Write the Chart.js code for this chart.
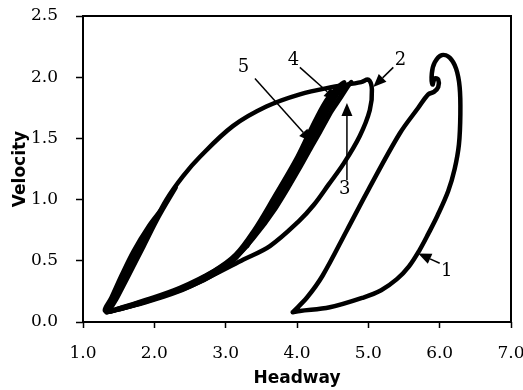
<!DOCTYPE html>
<html>
<head>
<meta charset="utf-8">
<script src="https://cdn.jsdelivr.net/npm/chart.js@4.4.0/dist/chart.umd.min.js"></script>
<style>
  body { margin: 0; background: #fff; }
  #wrap { width: 523px; height: 390px; }
</style>
</head>
<body>
<div id="wrap"><canvas id="loopChart" width="523" height="390"></canvas></div>
<script>
// axis ticks
const headwayTicks = [1, 2, 3, 4, 5, 6, 7];
const velocityTicks = [0, 0.5, 1, 1.5, 2, 2.5];

// trajectory 1 (right-hand loop)
const loop1Headway = [3.94, 4.14, 4.36, 4.70, 5.00, 5.44, 5.70, 5.84, 5.92, 5.98, 5.98, 5.93, 5.90, 5.89, 5.93, 6.03, 6.14, 6.23, 6.28, 6.29, 6.27, 6.21, 6.12, 5.97, 5.84, 5.72, 5.57, 5.40, 5.18, 4.93, 4.46, 4.04, 3.94];
const loop1Velocity = [0.08, 0.20, 0.38, 0.75, 1.08, 1.54, 1.75, 1.86, 1.88, 1.92, 1.98, 1.99, 1.94, 2.03, 2.12, 2.18, 2.16, 2.07, 1.92, 1.70, 1.45, 1.25, 1.07, 0.87, 0.72, 0.59, 0.455, 0.35, 0.26, 0.20, 0.12, 0.09, 0.08];

// trajectory 2 (outer left loop)
const loop2Headway = [1.33, 1.52, 1.70, 1.94, 2.17, 2.40, 2.64, 3.10, 3.57, 4.04, 4.50, 4.90, 5.00, 5.05, 5.02, 4.88, 4.66, 4.44, 4.24, 4.02, 3.62, 3.25, 2.78, 2.32, 1.84, 1.47, 1.33];
const loop2Velocity = [0.08, 0.29, 0.51, 0.75, 1.00, 1.19, 1.35, 1.60, 1.76, 1.86, 1.92, 1.96, 1.98, 1.90, 1.73, 1.52, 1.30, 1.12, 0.96, 0.82, 0.62, 0.51, 0.37, 0.245, 0.155, 0.10, 0.08];

// trajectories 3-5 (narrow loops along the band)
const loop3Headway = [2.30, 2.06, 1.85, 1.64, 1.48, 1.38, 1.50, 1.86, 2.34, 2.80, 3.10, 3.38, 3.70, 4.02, 4.24, 4.46, 4.62, 4.72, 4.76, 4.68, 4.52, 4.32, 4.10, 3.86, 3.58, 3.30];
const loop3Velocity = [1.10, 0.86, 0.62, 0.38, 0.20, 0.09, 0.11, 0.17, 0.26, 0.39, 0.51, 0.68, 0.93, 1.24, 1.47, 1.70, 1.84, 1.93, 1.96, 1.91, 1.76, 1.55, 1.33, 1.10, 0.85, 0.62];

const loop4Headway = [2.10, 1.92, 1.71, 1.54, 1.40, 1.31, 1.55, 1.90, 2.36, 2.82, 3.12, 3.40, 3.70, 4.00, 4.22, 4.44, 4.58, 4.64, 4.56, 4.38, 4.16, 3.92, 3.64, 3.36, 3.10];
const loop4Velocity = [0.92, 0.78, 0.58, 0.38, 0.20, 0.09, 0.11, 0.17, 0.27, 0.41, 0.53, 0.72, 0.98, 1.28, 1.52, 1.75, 1.88, 1.93, 1.86, 1.68, 1.45, 1.20, 0.92, 0.68, 0.52];

const loop5Headway = [1.33, 1.50, 1.88, 2.36, 2.84, 3.14, 3.40, 3.68, 3.98, 4.20, 4.40, 4.56, 4.66, 4.58, 4.40, 4.18, 3.94, 3.66, 3.40, 3.14, 2.90, 2.50, 2.00, 1.60, 1.33];
const loop5Velocity = [0.08, 0.11, 0.18, 0.28, 0.42, 0.55, 0.75, 1.02, 1.32, 1.58, 1.80, 1.91, 1.96, 1.90, 1.74, 1.50, 1.24, 0.95, 0.70, 0.52, 0.41, 0.29, 0.19, 0.12, 0.08];

const loops = [
  [loop1Headway, loop1Velocity],
  [loop2Headway, loop2Velocity],
  [loop3Headway, loop3Velocity],
  [loop4Headway, loop4Velocity],
  [loop5Headway, loop5Velocity]
];

// numbered arrows: text spot, arrow tail, arrow tip (in axis units)
const callouts = [
  { text: '1', at: [6.10, 0.41], from: [6.00, 0.48], to: [5.70, 0.56] },
  { text: '2', at: [5.45, 2.14], from: [5.35, 2.08], to: [5.07, 1.92] },
  { text: '3', at: [4.67, 1.08], from: [4.70, 1.16], to: [4.70, 1.79] },
  { text: '4', at: [3.95, 2.14], from: [4.04, 2.08], to: [4.56, 1.81] },
  { text: '5', at: [3.25, 2.08], from: [3.41, 1.99], to: [4.21, 1.47] }
];

const serif = '"DejaVu Serif", "Liberation Serif", serif';
const sans = '"DejaVu Sans", Arial, sans-serif';

const calloutPlugin = {
  id: 'callouts',
  afterDatasetsDraw(chart) {
    const { ctx, scales: { x, y } } = chart;
    ctx.save();
    ctx.strokeStyle = '#000';
    ctx.fillStyle = '#000';
    ctx.lineWidth = 1.5;
    ctx.font = '18px ' + serif;
    ctx.textAlign = 'center';
    ctx.textBaseline = 'middle';
    callouts.forEach(c => {
      const x0 = x.getPixelForValue(c.from[0]), y0 = y.getPixelForValue(c.from[1]);
      const x1 = x.getPixelForValue(c.to[0]), y1 = y.getPixelForValue(c.to[1]);
      const a = Math.atan2(y1 - y0, x1 - x0);
      const len = 13, half = 5.5;
      const bx = x1 - Math.cos(a) * len, by = y1 - Math.sin(a) * len;
      ctx.beginPath();
      ctx.moveTo(x0, y0);
      ctx.lineTo(bx, by);
      ctx.stroke();
      ctx.beginPath();
      ctx.moveTo(x1, y1);
      ctx.lineTo(bx + Math.sin(a) * half, by - Math.cos(a) * half);
      ctx.lineTo(bx - Math.sin(a) * half, by + Math.cos(a) * half);
      ctx.closePath();
      ctx.fill();
      ctx.fillText(c.text, x.getPixelForValue(c.at[0]), y.getPixelForValue(c.at[1]));
    });
    ctx.restore();
  }
};

// plot frame on all four sides
const framePlugin = {
  id: 'frame',
  afterDraw(chart) {
    const { ctx, chartArea: a } = chart;
    ctx.save();
    ctx.strokeStyle = '#000';
    ctx.lineWidth = 2;
    ctx.strokeRect(a.left, a.top, a.right - a.left, a.bottom - a.top);
    ctx.restore();
  }
};

const ctx = document.getElementById('loopChart').getContext('2d');
new Chart(ctx, {
  type: 'scatter',
  data: {
    datasets: loops.map((l, i) => ({
      label: 'Loop ' + (i + 1),
      data: l[0].map((h, k) => ({ x: h, y: l[1][k] })),
      showLine: true,
      borderColor: '#000',
      borderWidth: 4.5,
      pointRadius: 0,
      tension: 0.35,
      borderJoinStyle: 'round',
      borderCapStyle: 'round',
      fill: false
    }))
  },
  options: {
    responsive: false,
    animation: false,
    devicePixelRatio: 1,
    layout: { padding: { top: 16, right: 12, bottom: 0, left: 0 } },
    plugins: { legend: { display: false }, tooltip: { enabled: false } },
    scales: {
      x: {
        type: 'linear',
        min: 1,
        max: 7,
        afterBuildTicks: s => { s.ticks = headwayTicks.map(v => ({ value: v })); },
        afterFit: s => { s.height = 68; s.paddingLeft = 0; s.paddingRight = 0; },
        ticks: {
          callback: v => v.toFixed(1),
          color: '#000',
          font: { family: serif, size: 17 },
          padding: 15,
          maxRotation: 0,
          autoSkip: false
        },
        grid: { drawOnChartArea: false, drawTicks: true, tickLength: 6, tickColor: '#000', tickWidth: 1.5 },
        border: { display: false },
        title: {
          display: true,
          text: 'Headway',
          color: '#000',
          font: { family: sans, size: 17, weight: 'bold' },
          padding: { top: 0, bottom: 1 }
        }
      },
      y: {
        type: 'linear',
        min: 0,
        max: 2.5,
        afterBuildTicks: s => { s.ticks = velocityTicks.map(v => ({ value: v })); },
        afterFit: s => { s.width = 83; s.paddingTop = 0; s.paddingBottom = 0; },
        ticks: {
          callback: v => v.toFixed(1),
          color: '#000',
          font: { family: serif, size: 17 },
          padding: 18,
          autoSkip: false
        },
        grid: { drawOnChartArea: false, drawTicks: true, tickLength: 7, tickColor: '#000', tickWidth: 1.5 },
        border: { display: false },
        title: {
          display: true,
          text: 'Velocity',
          color: '#000',
          font: { family: sans, size: 17, weight: 'bold' },
          padding: { top: 10, bottom: 0 }
        }
      }
    }
  },
  plugins: [calloutPlugin, framePlugin]
});
</script>
</body>
</html>
